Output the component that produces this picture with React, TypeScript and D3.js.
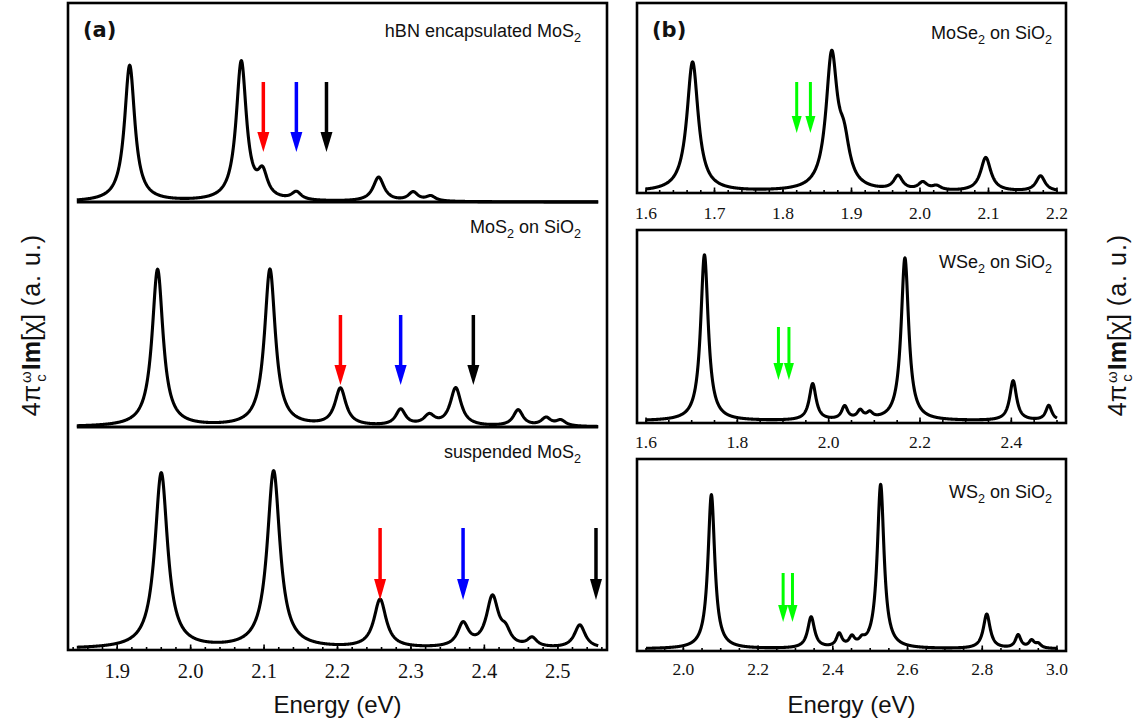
import React from 'react';
import * as d3 from 'd3';

// ---------------- data ----------------
// Panel (a): MoS2 spectra, peaks: center (eV), amplitude (rel.), HWHM (eV)
const hbnCenters = [1.917, 2.069, 2.098, 2.144, 2.256, 2.303, 2.327];
const hbnAmps = [0.96, 0.98, 0.17, 0.056, 0.17, 0.062, 0.035];
const hbnWidths = [0.0085, 0.0085, 0.008, 0.008, 0.009, 0.008, 0.008];
const hbnArrows = [2.099, 2.144, 2.185];

const sio2Centers = [1.955, 2.108, 2.204, 2.286, 2.325, 2.361, 2.446, 2.484, 2.504];
const sio2Amps = [0.97, 0.97, 0.23, 0.1, 0.062, 0.235, 0.1, 0.05, 0.035];
const sio2Widths = [0.009, 0.009, 0.009, 0.008, 0.009, 0.009, 0.008, 0.008, 0.008];
const sio2Arrows = [2.204, 2.286, 2.385];

const suspCenters = [1.96, 2.113, 2.258, 2.371, 2.411, 2.429, 2.465, 2.53];
const suspAmps = [0.98, 0.99, 0.27, 0.13, 0.28, 0.07, 0.05, 0.13];
const suspWidths = [0.0105, 0.0105, 0.01, 0.009, 0.01, 0.008, 0.008, 0.009];
const suspArrows = [2.258, 2.371, 2.552];

const panelAEnergy = [1.845, 2.555];
const panelAFrameDomain = [1.833, 2.567];
const panelATicks = [1.9, 2.0, 2.1, 2.2, 2.3, 2.4, 2.5];

// Panel (b)
const mose2Centers = [1.668, 1.871, 1.889, 1.968, 2.004, 2.024, 2.096, 2.176];
const mose2Amps = [0.92, 0.935, 0.28, 0.1, 0.055, 0.03, 0.24, 0.11];
const mose2Widths = [0.01, 0.01, 0.01, 0.008, 0.008, 0.008, 0.009, 0.008];
const mose2Arrows = [1.82, 1.84];
const mose2Energy = [1.6, 2.2];
const mose2Ticks = [1.6, 1.7, 1.8, 1.9, 2.0, 2.1, 2.2];

const wse2Centers = [1.728, 1.965, 2.035, 2.069, 2.09, 2.167, 2.404, 2.482];
const wse2Amps = [1.0, 0.22, 0.08, 0.05, 0.035, 0.98, 0.24, 0.09];
const wse2Widths = [0.01, 0.009, 0.008, 0.008, 0.008, 0.01, 0.009, 0.008];
const wse2Arrows = [1.89, 1.913];
const wse2Energy = [1.6, 2.5];
const wse2Ticks = [1.6, 1.8, 2.0, 2.2, 2.4];

const ws2Centers = [2.075, 2.342, 2.417, 2.451, 2.478, 2.528, 2.812, 2.896, 2.932, 2.95];
const ws2Amps = [0.94, 0.19, 0.08, 0.055, 0.03, 1.0, 0.21, 0.08, 0.045, 0.025];
const ws2Widths = [0.011, 0.011, 0.009, 0.009, 0.009, 0.011, 0.011, 0.009, 0.009, 0.009];
const ws2Arrows = [2.267, 2.292];
const ws2Energy = [1.9, 3.0];
const ws2Ticks = [2.0, 2.2, 2.4, 2.6, 2.8, 3.0];

// ---------------- helpers ----------------
const SANS = "'Liberation Sans', Arial, sans-serif";
const SERIF = "'Liberation Serif', 'Times New Roman', serif";
const BOLD = "'DejaVu Sans', sans-serif";

function spectrum(centers: number[], amps: number[], widths: number[], lo: number, hi: number) {
  return d3.range(lo, hi + 1e-9, 0.0005).map((e) => [
    e,
    d3.sum(centers, (c, i) => (amps[i] * widths[i] * widths[i]) / ((e - c) * (e - c) + widths[i] * widths[i])),
  ]);
}

function Curve({ pts, x, baseline, H }: any) {
  const y = d3.scaleLinear().domain([0, 1]).range([baseline, baseline - H]);
  const line = d3.line<number[]>().x((d) => x(d[0])).y((d) => y(d[1])).curve(d3.curveLinear);
  return <path d={line(pts) || ''} fill="none" stroke="#000" strokeWidth={3.1} strokeLinejoin="round" />;
}

function Arrow({ x, y1, y2, color, head, hw, sw }: any) {
  return (
    <g>
      <line x1={x} x2={x} y1={y1} y2={y2 - head + 1} stroke={color} strokeWidth={sw} />
      <path d={`M${x - hw},${y2 - head} L${x + hw},${y2 - head} L${x},${y2} Z`} fill={color} />
    </g>
  );
}

function Ticks({ x, y, major, minor, fontSize, labelDy }: any) {
  return (
    <g>
      {minor.map((t: number, i: number) => (
        <line key={'m' + i} x1={x(t)} x2={x(t)} y1={y} y2={y - 3} stroke="#000" strokeWidth={1.6} />
      ))}
      {major.map((t: number, i: number) => (
        <g key={'M' + i}>
          <line x1={x(t)} x2={x(t)} y1={y} y2={y - 5.5} stroke="#000" strokeWidth={1.6} />
          <text x={x(t)} y={y + labelDy} textAnchor="middle" fontFamily={SERIF} fontSize={fontSize} fill="#111">
            {d3.format('.1f')(t)}
          </text>
        </g>
      ))}
    </g>
  );
}

function Label({ x, y, parts, size }: any) {
  // parts: array of [text, isSub]
  return (
    <text x={x} y={y} textAnchor="end" fontFamily={SANS} fontSize={size} fill="#111">
      {parts.map((p: any, i: number) => (
        <tspan key={i} fontSize={p[1] ? size * 0.7 : size} dy={p[1] ? 5 : i > 0 && parts[i - 1][1] ? -5 : 0}>
          {p[0]}
        </tspan>
      ))}
    </text>
  );
}

function YTitle({ cx, cy }: any) {
  return (
    <g transform={`translate(${cx},${cy}) rotate(-90)`}>
      <text x={0} y={8} textAnchor="middle" fontFamily={SANS} fontSize={25} fill="#111">
        <tspan>4π</tspan>
        <tspan fontSize={15} dy={-9} dx={2}>ω</tspan>
        <tspan fontSize={15} dy={15} dx={-10.5}>c</tspan>
        <tspan dy={-6} dx={4} fontWeight="bold">Im</tspan>
        <tspan>[χ]</tspan>
        <tspan letterSpacing={1}> (a. u.)</tspan>
      </text>
    </g>
  );
}

export default function App() {
  // Panel (a) geometry
  const aL = 68, aR = 607, aT = 3, aB = 650;
  const xa = d3.scaleLinear().domain(panelAFrameDomain).range([aL, aR]);
  const aMinor = d3.range(1.84, 2.561, 0.02);

  const hbn = spectrum(hbnCenters, hbnAmps, hbnWidths, panelAEnergy[0], panelAEnergy[1]);
  const sio2 = spectrum(sio2Centers, sio2Amps, sio2Widths, panelAEnergy[0], panelAEnergy[1]);
  const susp = spectrum(suspCenters, suspAmps, suspWidths, panelAEnergy[0], panelAEnergy[1]);

  // Panel (b) geometry
  const bL = 637, bR = 1066, pad = 9;
  const xb1 = d3.scaleLinear().domain(mose2Energy).range([bL + pad, bR - pad]);
  const xb2 = d3.scaleLinear().domain(wse2Energy).range([bL + pad, bR - pad]);
  const xb3 = d3.scaleLinear().domain(ws2Energy).range([bL + pad, bR - pad]);
  const b1Minor = d3.range(1.6, 2.201, 0.02);
  const b2Minor = d3.range(1.6, 2.501, 0.05);
  const b3Minor = d3.range(1.9, 3.001, 0.05);

  const mose2 = spectrum(mose2Centers, mose2Amps, mose2Widths, mose2Energy[0], mose2Energy[1]);
  const wse2 = spectrum(wse2Centers, wse2Amps, wse2Widths, wse2Energy[0], wse2Energy[1]);
  const ws2 = spectrum(ws2Centers, ws2Amps, ws2Widths, ws2Energy[0], ws2Energy[1]);

  const arrowColors = ['#ff0000', '#0000ff', '#000000'];
  const green = '#00ff00';

  const bBoxes = [
    [3, 193],
    [230, 423],
    [459, 651],
  ];

  return (
    <svg width={1146} height={726} style={{ position: 'absolute', left: 0, top: 0, background: '#fff' }}>
      <rect x={0} y={0} width={1146} height={726} fill="#fff" />
      {/* ---------- Panel (a) ---------- */}
      <rect x={aL} y={aT} width={aR - aL} height={aB - aT} fill="none" stroke="#000" strokeWidth={2.6} />
      <line x1={xa(panelAEnergy[0])} x2={xa(panelAEnergy[1])} y1={202} y2={202} stroke="#000" strokeWidth={3} />
      <line x1={xa(panelAEnergy[0])} x2={xa(panelAEnergy[1])} y1={427} y2={427} stroke="#000" strokeWidth={3} />
      <Curve pts={hbn} x={xa} baseline={202} H={142} />
      <Curve pts={sio2} x={xa} baseline={427} H={162} />
      <Curve pts={susp} x={xa} baseline={649} H={179} />
      {hbnArrows.map((e, i) => (
        <Arrow key={'ha' + i} x={xa(e)} y1={82} y2={152} color={arrowColors[i]} head={20} hw={6} sw={3.5} />
      ))}
      {sio2Arrows.map((e, i) => (
        <Arrow key={'sa' + i} x={xa(e)} y1={315} y2={385} color={arrowColors[i]} head={20} hw={6} sw={3.5} />
      ))}
      {suspArrows.map((e, i) => (
        <Arrow key={'ua' + i} x={xa(e)} y1={528} y2={600} color={arrowColors[i]} head={21} hw={6} sw={3.5} />
      ))}
      <Ticks x={xa} y={aB} major={panelATicks} minor={aMinor} fontSize={20.5} labelDy={28} />
      <text x={83} y={37} fontFamily={BOLD} fontWeight="bold" fontSize={21} fill="#111">(a)</text>
      <Label x={581} y={37} size={18} parts={[['hBN encapsulated MoS', false], ['2', true]]} />
      <Label x={581} y={233} size={18} parts={[['MoS', false], ['2', true], [' on SiO', false], ['2', true]]} />
      <Label x={581} y={458} size={18} parts={[['suspended MoS', false], ['2', true]]} />
      <text x={(aL + aR) / 2} y={713} textAnchor="middle" fontFamily={SANS} fontSize={24} fill="#111">Energy (eV)</text>

      {/* ---------- Panel (b) ---------- */}
      {bBoxes.map((b, i) => (
        <rect key={'bb' + i} x={bL} y={b[0]} width={bR - bL} height={b[1] - b[0]} fill="none" stroke="#000" strokeWidth={2.6} />
      ))}
      <Curve pts={mose2} x={xb1} baseline={192} H={141} />
      <Curve pts={wse2} x={xb2} baseline={421} H={166} />
      <Curve pts={ws2} x={xb3} baseline={649} H={164} />
      {mose2Arrows.map((e, i) => (
        <Arrow key={'m' + i} x={xb1(e)} y1={82} y2={133} color={green} head={17} hw={5} sw={3} />
      ))}
      {wse2Arrows.map((e, i) => (
        <Arrow key={'w' + i} x={xb2(e)} y1={327} y2={380} color={green} head={17} hw={5} sw={3} />
      ))}
      {ws2Arrows.map((e, i) => (
        <Arrow key={'s' + i} x={xb3(e)} y1={573} y2={622} color={green} head={17} hw={5} sw={3} />
      ))}
      <Ticks x={xb1} y={193} major={mose2Ticks} minor={b1Minor} fontSize={17.5} labelDy={26} />
      <Ticks x={xb2} y={423} major={wse2Ticks} minor={b2Minor} fontSize={17.5} labelDy={25} />
      <Ticks x={xb3} y={651} major={ws2Ticks} minor={b3Minor} fontSize={17.5} labelDy={24} />
      <text x={652} y={37} fontFamily={BOLD} fontWeight="bold" fontSize={21} fill="#111">(b)</text>
      <Label x={1052} y={39} size={18} parts={[['MoSe', false], ['2', true], [' on SiO', false], ['2', true]]} />
      <Label x={1052} y={268} size={18} parts={[['WSe', false], ['2', true], [' on SiO', false], ['2', true]]} />
      <Label x={1052} y={498} size={18} parts={[['WS', false], ['2', true], [' on SiO', false], ['2', true]]} />
      <text x={(bL + bR) / 2} y={713} textAnchor="middle" fontFamily={SANS} fontSize={24} fill="#111">Energy (eV)</text>

      <YTitle cx={32} cy={325} />
      <YTitle cx={1118} cy={325} />
    </svg>
  );
}
